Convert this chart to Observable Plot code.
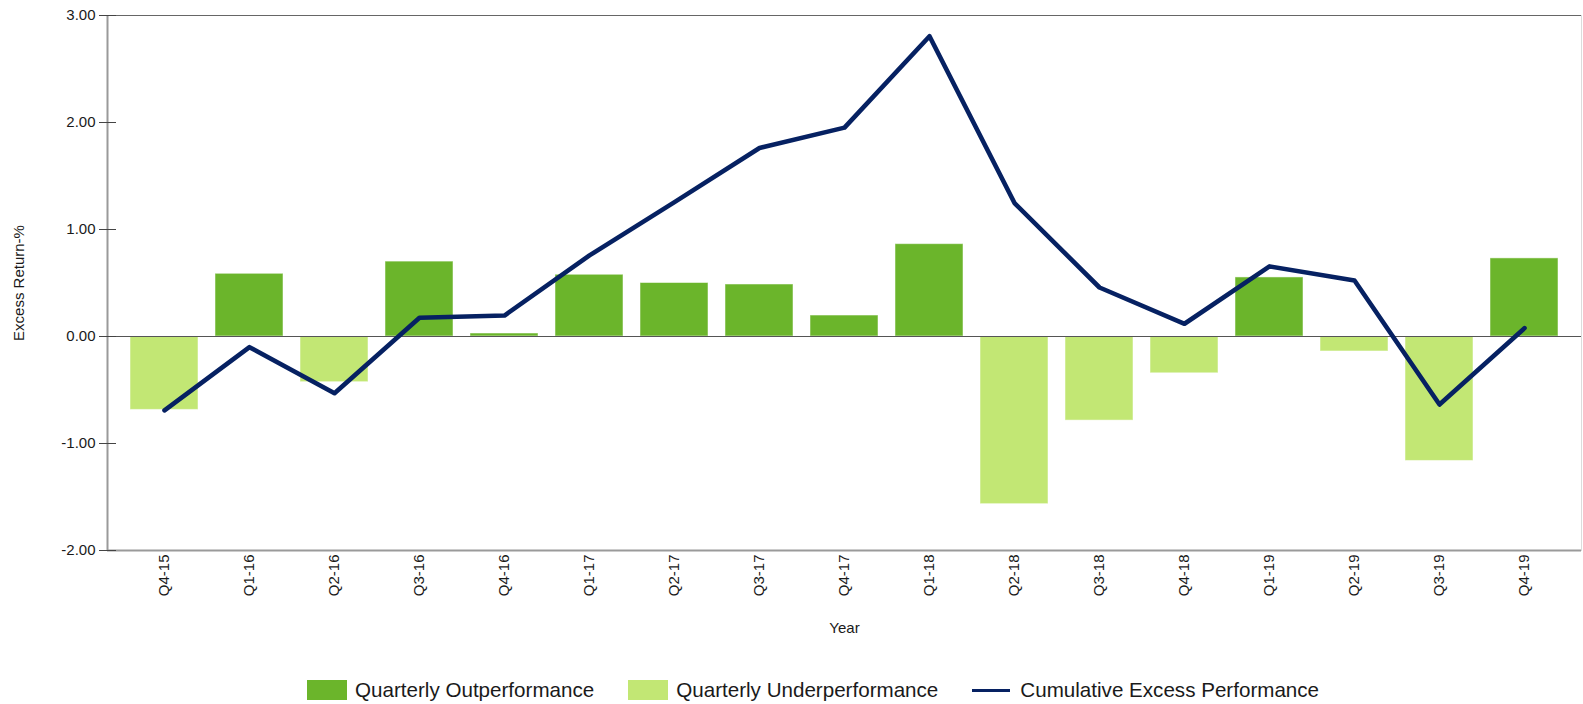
<!DOCTYPE html>
<html>
<head>
<meta charset="utf-8">
<script src="https://cdn.jsdelivr.net/npm/d3@7"></script>
<script src="https://cdn.jsdelivr.net/npm/@observablehq/plot@0.6"></script>
<style>
  html, body { margin: 0; padding: 0; background: #fff; }
  #wrap { position: relative; width: 1583px; height: 704px; font-family: "Liberation Sans", Arial, sans-serif; color: #1a1a1a; }
  #legend { position: absolute; left: 307px; top: 679px; display: flex; align-items: center; font-size: 20.6px; line-height: 22px; white-space: nowrap; }
  .item { display: flex; align-items: center; margin-right: 34px; }
  .sw { width: 40px; height: 20px; margin-right: 8px; }
  .ln { width: 38px; height: 3px; margin-right: 10px; }
</style>
</head>
<body>
<div id="wrap"><div id="chart"></div><div id="legend"></div></div>
<script>
const quarters = ["Q4-15","Q1-16","Q2-16","Q3-16","Q4-16","Q1-17","Q2-17","Q3-17","Q4-17","Q1-18","Q2-18","Q3-18","Q4-18","Q1-19","Q2-19","Q3-19","Q4-19"];
const quarterly = [-0.686, 0.586, -0.427, 0.70, 0.028, 0.577, 0.50, 0.486, 0.196, 0.863, -1.567, -0.786, -0.344, 0.552, -0.14, -1.163, 0.73];
const cumulative = [-0.69, -0.10, -0.53, 0.175, 0.196, 0.758, 1.256, 1.762, 1.952, 2.806, 1.247, 0.458, 0.119, 0.655, 0.524, -0.636, 0.078];
const yTicks = [-2, -1, 0, 1, 2, 3];
const seriesNames = ["Quarterly Outperformance", "Quarterly Underperformance", "Cumulative Excess Performance"];
const colors = { out: "#6bb52b", under: "#c2e774", line: "#062162" };

const rows = quarters.map((q, i) => ({ q, v: quarterly[i], c: cumulative[i] }));

const leftLine = (index, scales, values, dims) => {
  const g = d3.create("svg:g");
  g.append("line")
    .attr("x1", dims.marginLeft + 0.5).attr("x2", dims.marginLeft + 0.5)
    .attr("y1", dims.marginTop).attr("y2", dims.height - dims.marginBottom + 1)
    .attr("stroke", "#9a9a9a").attr("stroke-width", 2);
  return g.node();
};

const chart = Plot.plot({
  width: 1583,
  height: 650,
  marginLeft: 107,
  marginRight: 2,
  marginTop: 15,
  marginBottom: 100,
  style: { fontFamily: "Liberation Sans, Arial, sans-serif", fontSize: "15px", color: "#1a1a1a", background: "#fff" },
  x: { type: "band", domain: quarters, paddingInner: 0.2, paddingOuter: 0.27, label: "Year" },
  y: { domain: [-2, 3], label: "Excess Return-%" },
  marks: [
    Plot.frame({ stroke: "#dcdcdc" }),
    Plot.barY(rows, { x: "q", y: "v", fill: d => d.v >= 0 ? colors.out : colors.under, stroke: "#ffffff", strokeOpacity: 0.5, strokeWidth: 1 }),
    Plot.ruleY([3], { stroke: "#666" }),
    Plot.ruleY([0], { stroke: "#555" }),
    Plot.ruleY([-2], { stroke: "#9a9a9a", strokeWidth: 2 }),
    leftLine,
    Plot.lineY(rows, { x: "q", y: "c", stroke: colors.line, strokeWidth: 4.6, strokeLinejoin: "round", strokeLinecap: "round" }),
    Plot.axisY(yTicks, { tickSize: 17, dx: 9, fill: "none", stroke: "#444" }),
    Plot.axisY(yTicks, { tickSize: 0, tickPadding: 12, tickFormat: d => d.toFixed(2), label: "Excess Return-%", labelAnchor: "center", labelArrow: "none", labelOffset: 94 }),
    Plot.axisX({ tickSize: 0, tickRotate: -90, tickPadding: 4, label: "Year", labelAnchor: "center", labelOffset: 82 })
  ]
});
document.getElementById("chart").appendChild(chart);

const legend = document.getElementById("legend");
const items = [
  { name: seriesNames[0], kind: "sw", color: colors.out },
  { name: seriesNames[1], kind: "sw", color: colors.under },
  { name: seriesNames[2], kind: "ln", color: colors.line }
];
items.forEach(it => {
  const d = document.createElement("div");
  d.className = "item";
  const s = document.createElement("span");
  s.className = it.kind;
  s.style.background = it.color;
  const t = document.createElement("span");
  t.textContent = it.name;
  d.appendChild(s); d.appendChild(t);
  legend.appendChild(d);
});
</script>
</body>
</html>
